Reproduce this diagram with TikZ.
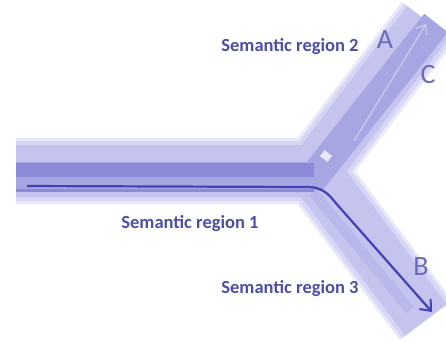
\documentclass[tikz,border=0pt]{standalone}
\usepackage{fontspec}
\setmainfont{Carlito}
\usepackage{tikz}
\usetikzlibrary{arrows.meta,positioning,calc}
\definecolor{tubeA}{RGB}{232,232,250}
\definecolor{tubeB}{RGB}{214,214,245}
\definecolor{tubeC}{RGB}{196,196,239}
\definecolor{bandD}{RGB}{166,166,227}
\definecolor{bandE}{RGB}{138,138,214}
\definecolor{pathblue}{RGB}{66,66,178}
\definecolor{labelblue}{RGB}{78,78,168}
\definecolor{letterblue}{RGB}{108,108,186}

\begin{document}
\begin{tikzpicture}[
    x=1pt, y=-1pt,
    region/.style={font=\bfseries\fontsize{18.5}{20}\selectfont, text=labelblue, inner sep=0pt},
    letter/.style={font=\fontsize{28}{30}\selectfont, text=letterblue, inner sep=0pt},
    arm/.style={line cap=butt, line join=round},
    arrow/.style={-{Straight Barb[length=9pt,width=15pt,line width=2pt]}, line width=2.2pt, pathblue}
]
\useasboundingbox[fill=white] (0,0) rectangle (446,341);

\coordinate (trunk) at (16,171);
\coordinate (junc) at (314,171);
\coordinate (upper) at (428,22);
\coordinate (lower) at (426,320);

% tube, from the soft rim inwards
\foreach \w/\c in {66/tubeA,60/tubeB,52/tubeC}{
  \draw[arm, line width=\w pt, \c] (trunk) -- (junc) -- (upper);
  \draw[arm, line width=\w pt, \c] (junc) -- (lower);
}
\draw[arm, line width=30pt, bandD] ([yshift=-6pt]trunk) -- ([yshift=-6pt]junc) -- ([xshift=8pt,yshift=-1pt]upper);
\draw[arm, line width=14pt, bandE] ([yshift=1pt]trunk) -- ([yshift=1pt]junc);
\draw[arm, line width=3pt, bandE] ([yshift=-19pt]trunk) -- ([yshift=-19pt]junc);
\draw[arm, line width=10pt, tubeC!60!bandD] ($(junc)!0.12!(lower)+(-14,4)$) -- ($(lower)+(-16,-10)$);
\node[draw=tubeA, fill=tubeA, minimum width=9pt, minimum height=7pt, rotate=-37, inner sep=0pt] (knot) at (326,156) {};

% the two routes
\coordinate (start) at (27,186);
\coordinate (bend) at (308,187);
\coordinate (tipB) at (432,312);
\coordinate (tipA) at (426,24);
\draw[arrow] (start) -- (bend) to[out=0, in=127] ($(bend)!0.12!(tipB)+(12,0)$) -- (tipB);
\draw[-{Straight Barb[length=8pt,width=13pt]}, line width=1.2pt, tubeB, opacity=0.8] ($(junc)+(40,-30)$) -- (tipA);

\node[region] (reg2) at (290,47) {Semantic region 2};
\node[region] (reg1) at (190,224) {Semantic region 1};
\node[region] (reg3) at (290,289) {Semantic region 3};
\node[letter] (labA) at (385,40) {A};
\node[letter] (labC) at (428,75) {C};
\node[letter] (labB) at (421,267) {B};

\end{tikzpicture}
\end{document}
